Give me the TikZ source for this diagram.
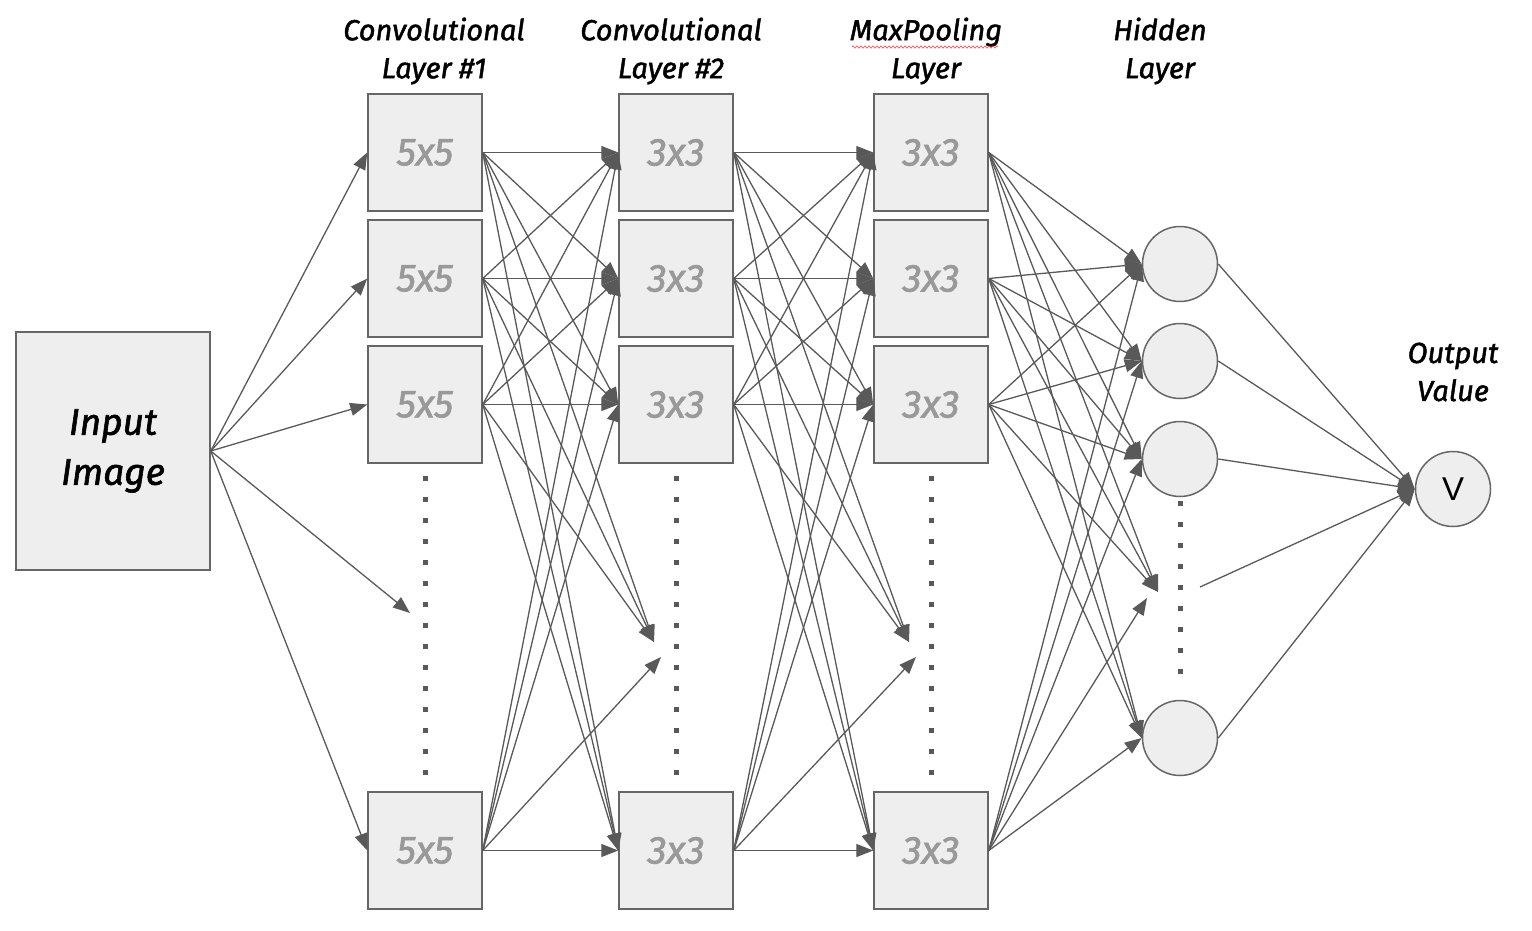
\documentclass[tikz,border=0pt]{standalone}
\usepackage{fontspec}
\setmainfont{Fira Sans}
\newfontfamily\vfont{Liberation Sans}
\newfontfamily\heavy{Fira Sans}[FakeBold=1.6]
\usetikzlibrary{arrows.meta,decorations.pathmorphing}
\definecolor{edgegray}{HTML}{595959}
\definecolor{boxfill}{HTML}{EEEEEE}
\definecolor{boxline}{HTML}{666666}
\definecolor{txtgray}{HTML}{999999}
\begin{document}
\begin{tikzpicture}[x=1pt,y=-1pt,
 box/.style={draw=boxline,fill=boxfill,line width=1.5pt,minimum width=114pt,minimum height=117pt,inner sep=0pt,font=\heavy\fontsize{39}{39}\selectfont\itshape,text=txtgray},
 neuron/.style={circle,draw=boxline,fill=boxfill,line width=1.5pt,minimum size=75pt,inner sep=0pt},
 head/.style={align=center,font=\heavy\fontsize{29}{38}\selectfont\itshape},
 conn/.style={draw=edgegray,line width=1.3pt,-{Triangle[length=17pt,width=13pt]}},
 dots/.style={draw=edgegray,line width=5pt,dash pattern=on 5pt off 16pt}
]
\useasboundingbox (0,0) rectangle (1532,930);

% input
\node[box,minimum width=194pt,minimum height=238pt,text=black,font=\heavy\fontsize{37}{50}\selectfont\itshape,align=center,text depth=8pt] (in) at (113,451) {Input\\Image};

% layers
\foreach \y [count=\i] in {152.5,278.5,404.5,850.5} {
  \node[box] (a\i) at (425,\y) {5x5};
  \node[box] (b\i) at (676,\y) {3x3};
  \node[box] (c\i) at (931,\y) {3x3};
}
\foreach \y [count=\i] in {264,361,459,738} {
  \node[neuron] (h\i) at (1180,\y) {};
}
\node[neuron,font=\vfont\fontsize{33}{33}\selectfont] (v) at (1453,489) {V};

% headers
\node[head] (t1) at (434,51) {Convolutional\\Layer \#1};
\node[head] (t2) at (671,51) {Convolutional\\Layer \#2};
\node[head] (t3) at (926,51) {MaxPooling\\Layer};
\node[head] (t4) at (1160,51) {Hidden\\Layer};
\node[head] (t5) at (1453,372) {Output\\Value};
\draw[red!75,line width=0.6pt,decorate,decoration={zigzag,amplitude=1.1pt,segment length=4pt}] (852,47) -- (998,47);

% dotted continuations
\draw[dots] ([yshift=-12pt]a3.south) -- ([yshift=10pt]a4.north);
\draw[dots] ([yshift=-12pt]b3.south) -- ([yshift=10pt]b4.north);
\draw[dots] ([yshift=-12pt]c3.south) -- ([yshift=10pt]c4.north);
\draw[dots] ([yshift=-4pt]h3.south) -- ([yshift=10pt]h4.north);

% gap targets
\coordinate (g1) at (410,613);
\coordinate (g2a) at (654,642);
\coordinate (g2b) at (661,657);
\coordinate (g3a) at (909,642);
\coordinate (g3b) at (916,657);
\coordinate (g4a) at (1158,592);
\coordinate (g4b) at (1147,598);
\coordinate (g5) at (1200,587);

% connectors
\foreach \i in {1,...,4} {
  \draw[conn] (in.east) -- (a\i.west);
}
\draw[conn] (in.east) -- (g1);
\foreach \i in {1,...,4} {
  \foreach \j in {1,...,4} {
    \draw[conn] (a\i.east) -- (b\j.west);
    \draw[conn] (b\i.east) -- (c\j.west);
    \draw[conn] (c\i.east) -- (h\j.west);
  }
}
\foreach \i in {1,2,3} {
  \draw[conn] (a\i.east) -- (g2a);
  \draw[conn] (b\i.east) -- (g3a);
  \draw[conn] (c\i.east) -- (g4a);
}
\draw[conn] (a4.east) -- (g2b);
\draw[conn] (b4.east) -- (g3b);
\draw[conn] (c4.east) -- (g4b);
\foreach \i in {1,...,4} {
  \draw[conn] (h\i.east) -- (v.west);
}
\draw[conn] (g5) -- (v.west);
\end{tikzpicture}
\end{document}
